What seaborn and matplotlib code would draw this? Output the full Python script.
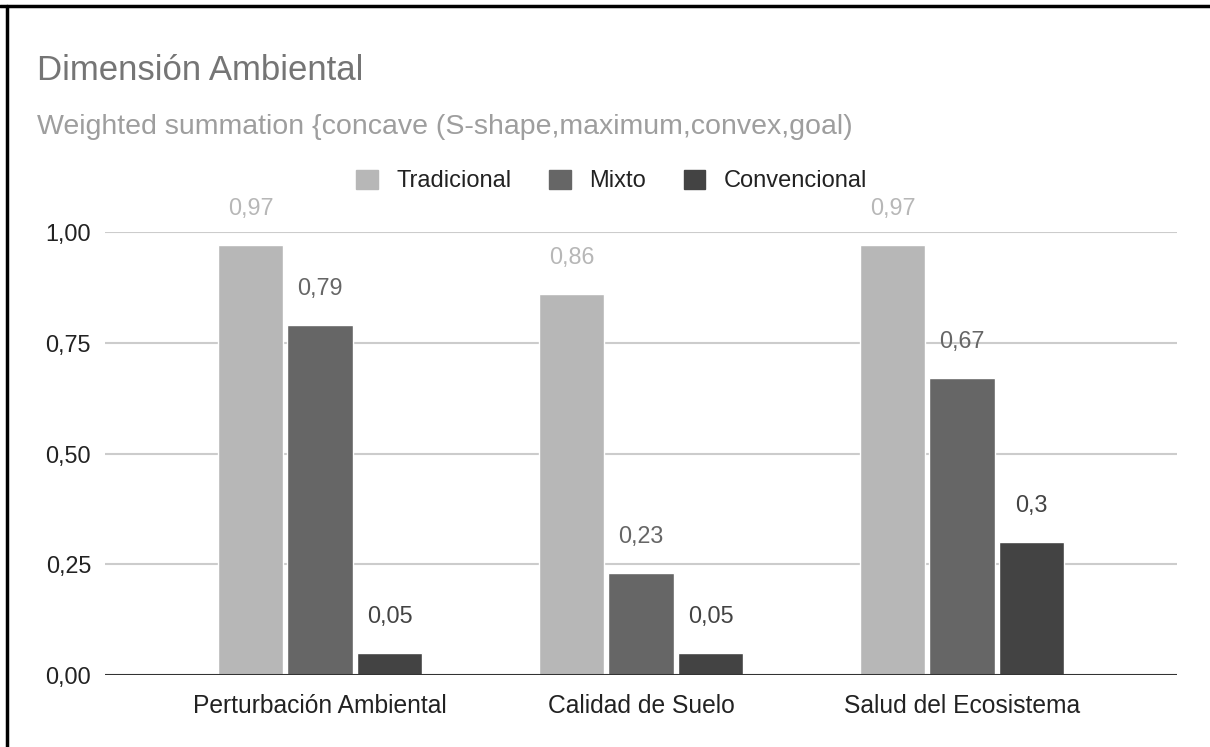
import matplotlib
matplotlib.use("Agg")
import matplotlib.pyplot as plt
from matplotlib.patches import Patch
from matplotlib.lines import Line2D
import pandas as pd
import seaborn as sb

categorias = ["Perturbación Ambiental", "Calidad de Suelo", "Salud del Ecosistema"]
series = ["Tradicional", "Mixto", "Convencional"]
tradicional = [0.97, 0.86, 0.97]
mixto = [0.79, 0.23, 0.67]
convencional = [0.05, 0.05, 0.30]
yticks = [0.0, 0.25, 0.5, 0.75, 1.0]
colores = ["#b7b7b7", "#666666", "#434343"]

rows = []
for serie, vals in zip(series, [tradicional, mixto, convencional]):
    for cat, v in zip(categorias, vals):
        rows.append({"categoria": cat, "serie": serie, "valor": v})
df = pd.DataFrame(rows)

sb.set_style("white")
plt.rcParams["font.family"] = ["Liberation Sans", "DejaVu Sans"]

fig = plt.figure(figsize=(12.1, 7.47), dpi=100)
ax = fig.add_axes([105 / 1210, 72 / 747, 1072 / 1210, 443 / 747])

sb.barplot(data=df, x="categoria", y="valor", hue="serie", palette=colores,
           width=0.65, gap=0.06, ax=ax, legend=False, saturation=1)

ax.set_ylim(0, 1.0)
ax.set_xlim(-0.67, 2.67)
ax.set_yticks(yticks)
ax.set_yticklabels([f"{t:.2f}".replace(".", ",") for t in yticks])
ax.yaxis.grid(True, color="#cccccc", linewidth=1.5)
ax.set_axisbelow(True)
for s in ax.spines.values():
    s.set_visible(False)
ax.axhline(0, color="#333333", linewidth=2.2, zorder=5)
ax.tick_params(axis="y", length=0, pad=10, labelsize=16.8, labelcolor="#222222")
ax.tick_params(axis="x", length=0, pad=14, labelsize=17.7, labelcolor="#222222")
ax.set_xlabel("")
ax.set_ylabel("")

# etiquetas de valores
for cont, col in zip(ax.containers, colores):
    labs = [f"{b.get_height():g}".replace(".", ",") for b in cont]
    ax.bar_label(cont, labels=labs, padding=18, color=col, fontsize=16.8)

fig.text(37 / 1210, 1 - 70 / 747, "Dimensión Ambiental", fontsize=25,
         color="#757575", va="center", ha="left")
fig.text(37 / 1210, 1 - 127 / 747,
         "Weighted summation {concave (S-shape,maximum,convex,goal)",
         fontsize=20.5, color="#9e9e9e", va="center", ha="left")

handles = [Patch(facecolor=c, edgecolor=c) for c in colores]
fig.legend(handles, series, loc="center", bbox_to_anchor=(612 / 1210, 1 - 181 / 747),
           ncol=3, frameon=False, fontsize=17, handlelength=0.9, handleheight=0.9,
           handletextpad=0.8, columnspacing=1.6, labelcolor="#222222")

# marco del borde
fig.add_artist(Line2D([0, 1], [1 - 5.5 / 747, 1 - 5.5 / 747], color="black", lw=2.5,
                      transform=fig.transFigure))
fig.add_artist(Line2D([6.5 / 1210, 6.5 / 1210], [0, 1 - 5.5 / 747], color="black", lw=2.5,
                      transform=fig.transFigure))

fig.savefig("out.png", dpi=100)
